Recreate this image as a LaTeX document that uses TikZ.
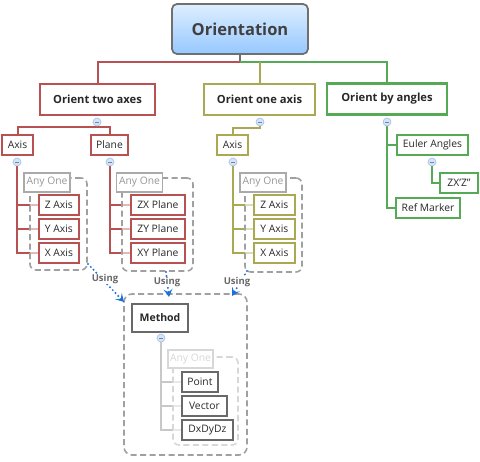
\documentclass[tikz,border=0pt]{standalone}
\usepackage{fontspec}
\setmainfont{Open Sans}
\usetikzlibrary{arrows.meta}
\definecolor{colred}{RGB}{184,82,82}
\definecolor{cololive}{RGB}{170,168,82}
\definecolor{colgreen}{RGB}{86,170,86}
\definecolor{colmeth}{RGB}{200,200,200}
\definecolor{txt}{RGB}{40,40,40}
\definecolor{rootb}{RGB}{112,112,112}
\definecolor{rootT}{RGB}{222,238,255}
\definecolor{rootB}{RGB}{150,200,255}
\definecolor{anyc}{RGB}{170,170,170}
\definecolor{anyt}{RGB}{150,150,150}
\definecolor{anyl}{RGB}{215,215,215}
\definecolor{grpc}{RGB}{160,160,160}
\definecolor{colblue}{RGB}{30,110,220}
\definecolor{togf}{RGB}{214,228,248}
\definecolor{togd}{RGB}{160,190,230}
\definecolor{mgray}{RGB}{105,105,105}
\pgfdeclarelayer{bg}
\pgfdeclarelayer{mid}
\pgfsetlayers{bg,mid,main}
\begin{document}
\begin{tikzpicture}[x=1pt,y=-1pt,
  rootbox/.style={draw=rootb, line width=1.8pt, rounded corners=5pt, top color=rootT, bottom color=rootB,
    minimum width=136pt, minimum height=50pt, inner sep=0pt, font=\bfseries\fontsize{16.5}{19}\selectfont, text={rgb,255:red,64;green,64;blue,64}},
  mainbox/.style={draw=#1, line width=2.4pt, fill=white, inner sep=0pt, minimum height=31pt,
    font=\bfseries\fontsize{11.2}{13}\selectfont, text=txt},
  subbox/.style={draw=#1, line width=1.8pt, fill=white, inner sep=0pt, minimum height=20pt,
    font=\fontsize{10.3}{12}\selectfont, text=txt},
  leafbox/.style={subbox=#1, anchor=west},
  anybox/.style={draw=anyc, line width=1.8pt, fill=white, inner sep=0pt, minimum height=19pt, minimum width=46pt,
    font=\fontsize{10.3}{12}\selectfont, text=anyt},
  grp/.style={draw=grpc, line width=1.6pt, dash pattern=on 6pt off 3.5pt, rounded corners=6pt,
    fill=white, fill opacity=0.6, inner sep=0pt},
  tog/.style={circle, draw=togd, fill=togf, line width=0.6pt, minimum size=8pt, inner sep=0pt,
    path picture={\draw[togd!70!black, line width=0.7pt] ([xshift=-2pt]path picture bounding box.center) -- ([xshift=2pt]path picture bounding box.center);}},
  tl/.style={line width=2pt},
  usearrow/.style={colblue, line width=2.2pt, dash pattern=on 0pt off 4pt, line cap=round,
    -{Stealth[length=8pt,width=9pt,inset=3.5pt]}},
  uselabel/.style={font=\bfseries\fontsize{9.5}{11}\selectfont, text=mgray, fill=white, inner sep=0.5pt}
]
\useasboundingbox (0,0) rectangle (480,462);

% root and main branches
\node[rootbox] (root) at (240,29) {Orientation};
\node[mainbox=colred, minimum width=115pt] (ota) at (97.5,99.5) {Orient two axes};
\node[mainbox=cololive, minimum width=111pt] (ooa) at (259.5,99.5) {Orient one axis};
\node[mainbox=colgreen, minimum width=120pt] (oba) at (387,99) {Orient by angles};
\node[tog] (tOTA) at (97,122) {};
\node[tog] (tOOA) at (260,122) {};
\node[tog] (tOBA) at (387,122) {};
\coordinate (bus) at (240,62);

% level 2
\node[subbox=colred, minimum width=31pt] (axL) at (17.5,145) {Axis};
\node[subbox=colred, minimum width=37pt] (plane) at (109.5,145) {Plane};
\node[subbox=cololive, minimum width=31pt] (axY) at (232.5,145) {Axis};
\node[subbox=colgreen, minimum width=71pt] (euler) at (432.5,145) {Euler Angles};
\node[subbox=colgreen, minimum width=38pt] (zxz) at (459,183) {ZX'Z''};
\node[subbox=colgreen, minimum width=64pt] (ref) at (428,208) {Ref Marker};
\node[tog] (tAL) at (17,162) {};
\node[tog] (tPL) at (110,162) {};
\node[tog] (tAY) at (233,162) {};
\node[tog] (tEU) at (432,162) {};

% any-one groups
\begin{pgfonlayer}{mid}
\node[grp, minimum width=57pt, minimum height=92pt] (gL) at (58.5,224) {};
\node[grp, minimum width=71pt, minimum height=93pt] (gP) at (157.5,224.5) {};
\node[grp, minimum width=57pt, minimum height=94pt] (gY) at (273.5,225) {};
\node[grp, minimum width=65pt, minimum height=88pt, draw=anyl] (gM) at (205.5,401) {};
\node[grp, minimum width=123pt, minimum height=161pt, fill=none, rounded corners=8pt] (gBig) at (185.5,374.5) {};
\end{pgfonlayer}
\node[anybox] (anyL) at (47,182.5) {Any One};
\node[anybox] (anyP) at (139.5,182.5) {Any One};
\node[anybox] (anyY) at (263,182.5) {Any One};

% leaves
\node[leafbox=colred, minimum width=40pt] (zL) at (38,205) {Z Axis};
\node[leafbox=colred, minimum width=40pt] (yL) at (38,229) {Y Axis};
\node[leafbox=colred, minimum width=40pt] (xL) at (38,253) {X Axis};
\node[leafbox=colred, minimum width=54pt] (zxP) at (130,205) {ZX Plane};
\node[leafbox=colred, minimum width=54pt] (zyP) at (130,229) {ZY Plane};
\node[leafbox=colred, minimum width=54pt] (xyP) at (130,253) {XY Plane};
\node[leafbox=cololive, minimum width=41pt] (zY) at (253,205) {Z Axis};
\node[leafbox=cololive, minimum width=41pt] (yY) at (253,229) {Y Axis};
\node[leafbox=cololive, minimum width=41pt] (xY) at (253,253) {X Axis};

% method
\node[subbox=mgray, line width=2.2pt, minimum width=56pt, minimum height=28pt, font=\bfseries\fontsize{10.5}{12}\selectfont] (meth) at (160,318) {Method};
\node[tog] (tM) at (161,338) {};
\node[anybox, draw=anyl, text=anyl, minimum width=45pt, minimum height=18pt] (anyM) at (190.5,359) {Any One};
\node[leafbox=mgray, minimum width=36pt] (pt) at (181,382) {Point};
\node[leafbox=mgray, minimum width=45pt] (vec) at (181,406) {Vector};
\node[leafbox=mgray, minimum width=51pt] (dxd) at (181,430) {DxDyDz};

% connectors
\begin{pgfonlayer}{bg}
\draw[tl, rootb] (root.south) -- (bus);
\draw[tl, colred] (bus) -| (ota.north);
\draw[tl, colgreen] (bus) -| (oba.north);
\draw[tl, cololive] (ooa.north) -- (ooa.north |- bus);
\draw[tl, colred] (tOTA.south) -- ++(0,1) -| (axL.north);
\draw[tl, colred] (tOTA.south) -- ++(0,1) -| (plane.north);
\draw[tl, cololive] (tOOA.south) -- ++(0,2) -| (axY.north);
\draw[tl, colgreen] (tOBA.south) |- (ref.west);
\draw[tl, colgreen] (tOBA.south |- euler.west) -- (euler.west);
\draw[tl, colgreen] (tEU.south) |- (zxz.west);
\draw[tl, colred] (tAL.south) |- (zL.west);
\draw[tl, colred] (tAL.south) |- (yL.west);
\draw[tl, colred] (tAL.south) |- (xL.west);
\draw[tl, colred] (tPL.south) |- (zxP.west);
\draw[tl, colred] (tPL.south) |- (zyP.west);
\draw[tl, colred] (tPL.south) |- (xyP.west);
\draw[tl, cololive] (tAY.south) |- (zY.west);
\draw[tl, cololive] (tAY.south) |- (yY.west);
\draw[tl, cololive] (tAY.south) |- (xY.west);
\draw[tl, colmeth] (tM.south) |- (pt.west);
\draw[tl, colmeth] (tM.south) |- (vec.west);
\draw[tl, colmeth] (tM.south) |- (dxd.west);
\end{pgfonlayer}

% using arrows
\coordinate (a1s) at (88,264);
\coordinate (a1e) at (124,302);
\coordinate (a2s) at (166,272);
\coordinate (a2e) at (169,297);
\coordinate (a3s) at (247,271);
\coordinate (a3e) at (232,296);
\draw[usearrow] (a1s) -- (a1e);
\draw[usearrow] (a2s) -- (a2e);
\draw[usearrow] (a3s) -- (a3e);
\node[uselabel] (u1) at (105,279) {Using};
\node[uselabel] (u2) at (167,282) {Using};
\node[uselabel] (u3) at (237,282) {Using};
\end{tikzpicture}
\end{document}
